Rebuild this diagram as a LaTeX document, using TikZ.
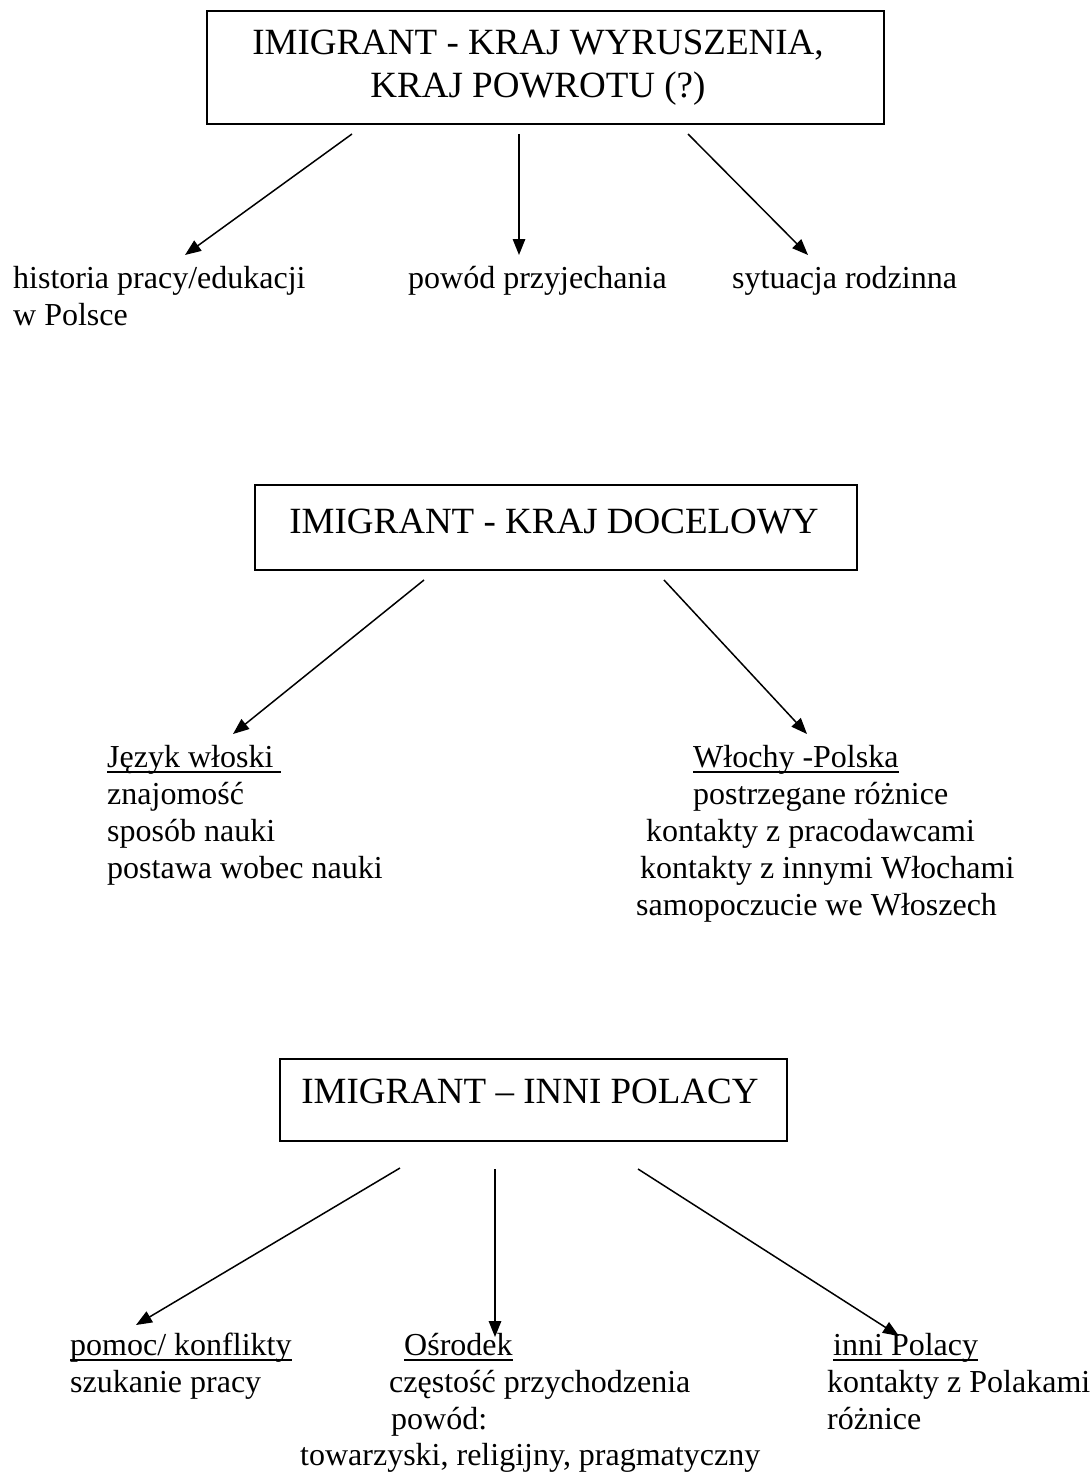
\documentclass[tikz,border=0pt]{standalone}
\usepackage{fontspec}
\setmainfont{Liberation Serif}
\usetikzlibrary{arrows.meta}
\newsavebox\ulbox
\newcommand\ulin[1]{\sbox\ulbox{#1}\rlap{\rule[-5.5pt]{\wd\ulbox}{1.8pt}}\usebox\ulbox}
\tikzset{
  titlebox/.style={draw, line width=1.8pt, inner sep=0pt},
  titletext/.style={inner sep=0pt, anchor=base, font=\fontsize{37}{43}\selectfont},
  item/.style={inner sep=0pt, anchor=base west, font=\fontsize{32}{37}\selectfont},
  link/.style={line width=1.5pt, -{Triangle[length=16pt,width=12.5pt]}},
}
\begin{document}
\begin{tikzpicture}[x=1pt,y=-1pt]
\useasboundingbox (0,0) rectangle (1091,1474);
\fill[white] (0,0) rectangle (1091,1474);

% ---------- section 1 ----------
\node[titlebox, minimum width=677pt, minimum height=113pt] (b1) at (545.5,67.5) {};
\node[titletext] (t1a) at (538,55) {IMIGRANT - KRAJ WYRUSZENIA,};
\node[titletext] (t1b) at (538,98) {KRAJ POWROTU (?)};

\node[item] (h1) at (13,288) {historia pracy/edukacji};
\node[item] (h2) at (13,325) {w Polsce};
\node[item] (p1) at (408,288) {powód przyjechania};
\node[item] (s1) at (732,288) {sytuacja rodzinna};

\coordinate (a1s) at (352,134); \coordinate (a1e) at (185,255);
\coordinate (a2s) at (519,134); \coordinate (a2e) at (519,255);
\coordinate (a3s) at (688,134); \coordinate (a3e) at (808,255);
\draw[link] (a1s) -- (a1e);
\draw[link] (a2s) -- (a2e);
\draw[link] (a3s) -- (a3e);

% ---------- section 2 ----------
\node[titlebox, minimum width=602pt, minimum height=85pt] (b2) at (556,527.5) {};
\node[titletext] (t2) at (554,533) {IMIGRANT - KRAJ DOCELOWY};

\node[item] (j0) at (107,767) {\ulin{Język włoski\ }};
\node[item] (j1) at (107,804) {znajomość};
\node[item] (j2) at (107,841) {sposób nauki};
\node[item] (j3) at (107,878) {postawa wobec nauki};

\node[item] (w0) at (693,767) {\ulin{Włochy -Polska}};
\node[item] (w1) at (693,804) {postrzegane różnice};
\node[item] (w2) at (646,841) {kontakty z pracodawcami};
\node[item] (w3) at (640,878) {kontakty z innymi Włochami};
\node[item] (w4) at (636,915) {samopoczucie we Włoszech};

\coordinate (c1s) at (424,580); \coordinate (c1e) at (233,734);
\coordinate (c2s) at (664,580); \coordinate (c2e) at (807,734);
\draw[link] (c1s) -- (c1e);
\draw[link] (c2s) -- (c2e);

% ---------- section 3 ----------
\node[titlebox, minimum width=507pt, minimum height=82pt] (b3) at (533.5,1100) {};
\node[titletext] (t3) at (530,1103) {IMIGRANT – INNI POLACY};

\node[item] (k0) at (70,1355) {\ulin{pomoc/ konflikty}};
\node[item] (k1) at (70,1392) {szukanie pracy};

\node[item] (o0) at (404,1355) {\ulin{Ośrodek}};
\node[item] (o1) at (389,1392) {częstość przychodzenia};
\node[item] (o2) at (391,1429) {powód:};
\node[item] (o3) at (300,1465) {towarzyski, religijny, pragmatyczny};

\node[item] (i0) at (833,1355) {\ulin{inni Polacy}};
\node[item] (i1) at (827,1392) {kontakty z Polakami};
\node[item] (i2) at (827,1429) {różnice};

\coordinate (d1s) at (400,1168); \coordinate (d1e) at (136,1325);
\coordinate (d2s) at (495,1169); \coordinate (d2e) at (495,1337);
\coordinate (d3s) at (638,1169); \coordinate (d3e) at (899,1336);
\draw[link] (d1s) -- (d1e);
\draw[link] (d2s) -- (d2e);
\draw[link] (d3s) -- (d3e);
\end{tikzpicture}
\end{document}
